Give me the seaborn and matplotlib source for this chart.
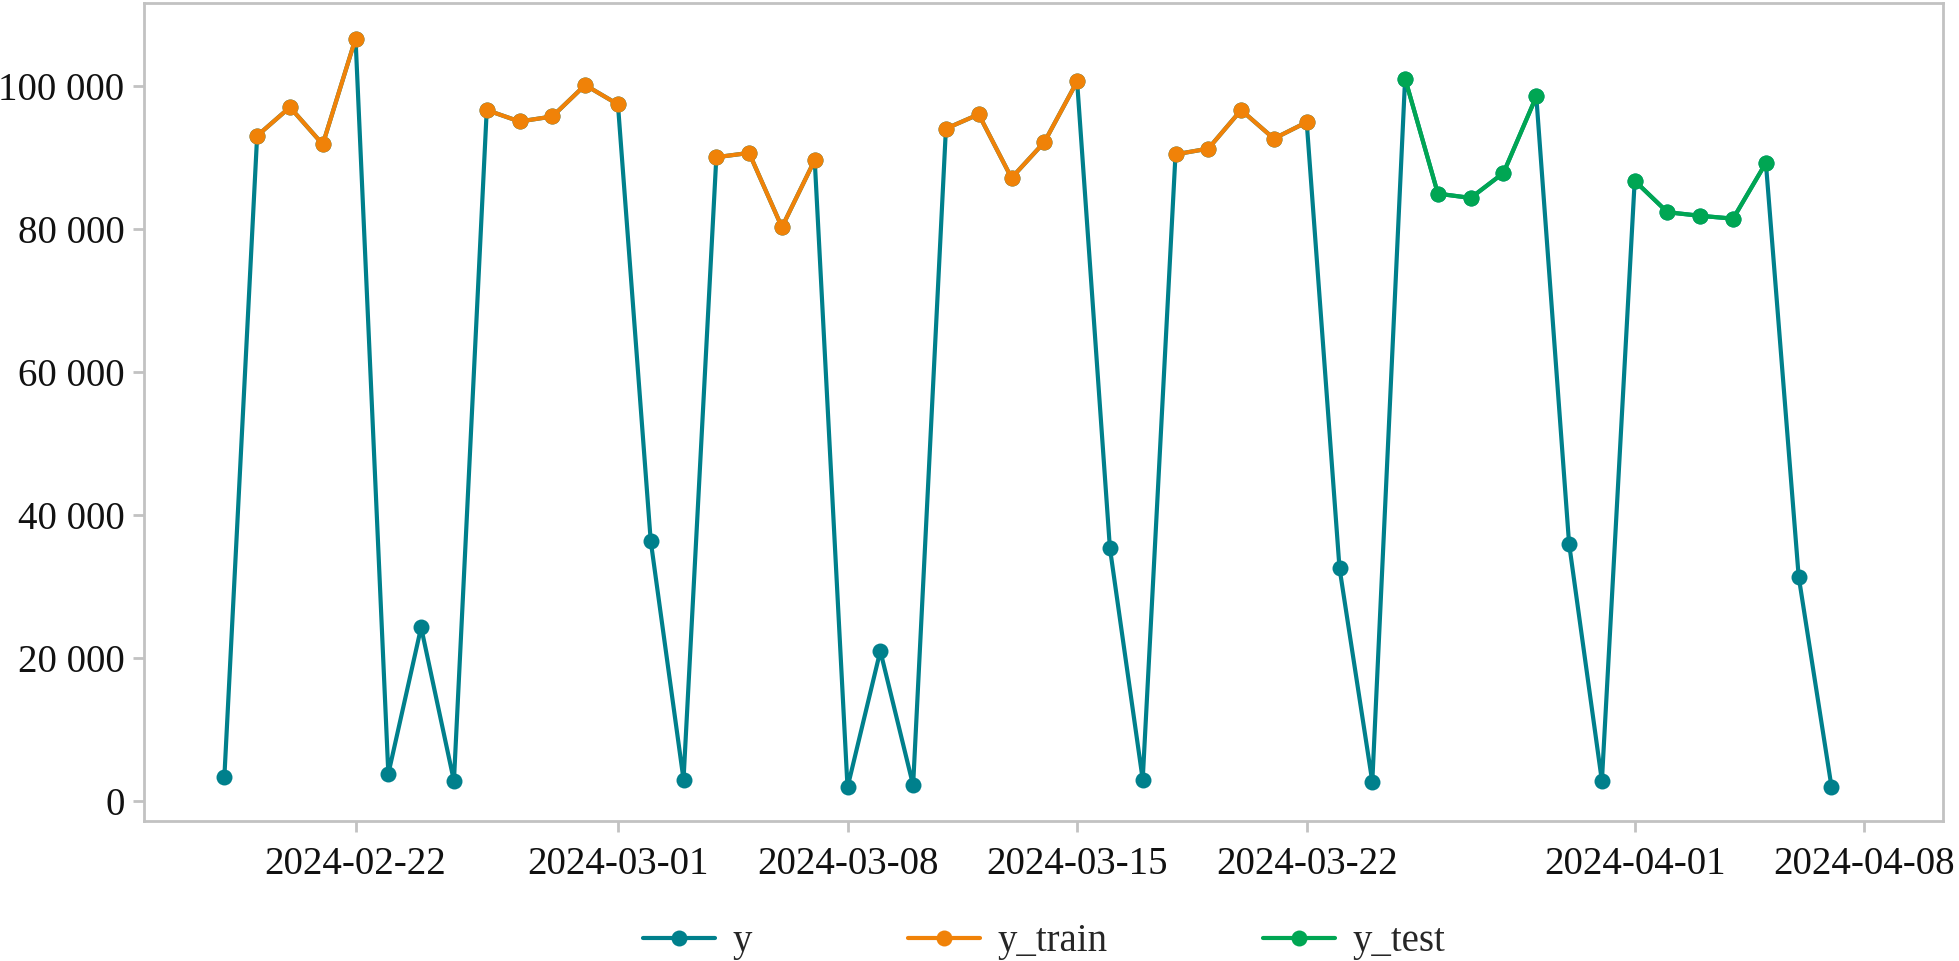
import matplotlib
matplotlib.use("Agg")
import matplotlib.pyplot as plt
from matplotlib.lines import Line2D
from matplotlib.ticker import FuncFormatter
import seaborn as sns
import pandas as pd

# daily values, 2024-02-18 .. 2024-04-07
start_date = "2024-02-18"
y_vals = [3300, 93100, 97100, 91900, 106700, 3800, 24300, 2800,
          96700, 95100, 95800, 100200, 97500, 36400, 3000,
          90100, 90700, 80300, 89700, 1900, 21000, 2200,
          94100, 96100, 87200, 92200, 100700, 35400, 3000,
          90500, 91300, 96700, 92700, 95000, 32600, 2700,
          101100, 85000, 84400, 87900, 98600, 36000, 2800,
          86800, 82400, 81900, 81500, 89300, 31400, 2000]

train_weeks = [("2024-02-19", "2024-02-22"), ("2024-02-26", "2024-03-01"),
               ("2024-03-04", "2024-03-07"), ("2024-03-11", "2024-03-15"),
               ("2024-03-18", "2024-03-22")]
test_weeks = [("2024-03-25", "2024-03-29"), ("2024-04-01", "2024-04-05")]

x_ticks = ["2024-02-22", "2024-03-01", "2024-03-08", "2024-03-15",
           "2024-03-22", "2024-04-01", "2024-04-08"]
y_ticks = [0, 20000, 40000, 60000, 80000, 100000]

c_y = "#00808C"
c_train = "#F08208"
c_test = "#00A653"
c_axis = "#C2C2C2"

df = pd.DataFrame({"ds": pd.date_range(start_date, periods=len(y_vals), freq="D"),
                   "y": y_vals})


def segments(weeks):
    parts = []
    for i, (a, b) in enumerate(weeks):
        part = df[(df.ds >= a) & (df.ds <= b)].copy()
        part["week"] = i
        parts.append(part)
    return pd.concat(parts)


df_train = segments(train_weeks)
df_test = segments(test_weeks)

sns.set_theme(style="white")
plt.rcParams["font.family"] = ["Liberation Serif", "DejaVu Serif"]
plt.rcParams["font.size"] = 28

fig, ax = plt.subplots(figsize=(19.59, 9.61), dpi=100)
fig.subplots_adjust(left=0.0735, right=0.992, top=0.997, bottom=0.1457)

line_kw = dict(marker="o", markersize=11.5, markeredgewidth=0, linewidth=3)
sns.lineplot(data=df, x="ds", y="y", color=c_y, ax=ax, **line_kw)
sns.lineplot(data=df_train, x="ds", y="y", units="week", estimator=None,
             color=c_train, ax=ax, **line_kw)
sns.lineplot(data=df_test, x="ds", y="y", units="week", estimator=None,
             color=c_test, ax=ax, **line_kw)

ax.set_xlim(pd.Timestamp("2024-02-22") - pd.Timedelta(days=6.45),
            pd.Timestamp("2024-04-08") + pd.Timedelta(days=2.41))
ax.set_ylim(-2800, 111700)
ax.set_xticks(pd.to_datetime(x_ticks))
ax.set_xticklabels(x_ticks)
ax.set_yticks(y_ticks)
ax.yaxis.set_major_formatter(FuncFormatter(lambda v, p: f"{v:,.0f}".replace(",", " ")))
ax.set_xlabel("")
ax.set_ylabel("")

for s in ax.spines.values():
    s.set_color(c_axis)
    s.set_linewidth(2)
ax.tick_params(axis="both", which="major", direction="out", length=8, width=2,
               color=c_axis, labelcolor="#111111", labelsize=28, pad=6)
ax.tick_params(axis="x", pad=10)
ax.tick_params(left=True, bottom=True)

handles = [Line2D([], [], color=c, **line_kw) for c in (c_y, c_train, c_test)]
fig.legend(handles, ["y", "y_train", "y_test"], loc="center", ncol=3,
           bbox_to_anchor=(0.533, 0.02), frameon=False, fontsize=28,
           handlelength=1.85, handletextpad=0.45, columnspacing=4.0)

fig.savefig("out.png", dpi=100, facecolor="white")
